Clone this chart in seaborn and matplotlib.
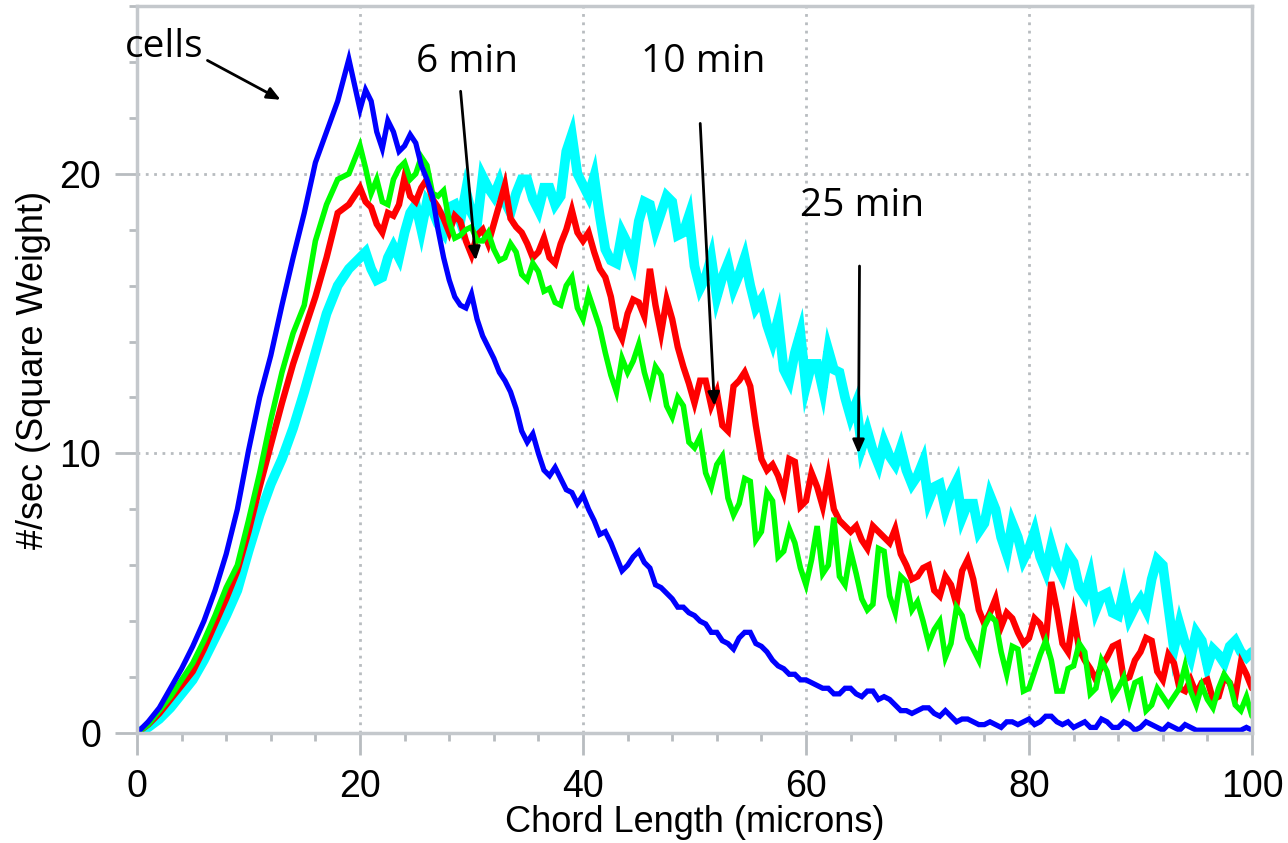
import numpy as np
import pandas as pd
import matplotlib
matplotlib.use("Agg")
import matplotlib.pyplot as plt
import seaborn as sns
from matplotlib.ticker import MultipleLocator

# chord length samples: whole microns, plus half-micron readings in the noisy part (20.5 .. 99.5)
chord = list(range(0, 101))
chord_mid = list(np.arange(20.5, 100.0, 1.0))

cells = [0, 0.4, 0.9, 1.6, 2.3, 3.1, 4.0, 5.1, 6.4, 8.0, 10.1, 12.0, 13.5, 15.3, 17.0, 18.6, 20.4, 21.5, 22.6, 24.1,
         22.3, 22.6, 20.9, 21.5, 21.0, 21.1, 19.8, 18.0, 16.2, 15.3, 15.7, 14.2, 13.4, 12.6, 11.6, 10.4, 10.0, 9.2, 9.1, 8.6,
         8.5, 7.6, 7.2, 6.3, 6.0, 6.5, 5.9, 5.2, 4.8, 4.5, 4.2, 3.9, 3.6, 3.2, 3.4, 3.6, 3.1, 2.6, 2.3, 2.1,
         1.9, 1.7, 1.6, 1.4, 1.6, 1.3, 1.5, 1.3, 1.0, 0.8, 0.8, 0.9, 0.6, 0.6, 0.5, 0.4, 0.3, 0.3, 0.4, 0.3,
         0.5, 0.4, 0.6, 0.3, 0.2, 0.4, 0.2, 0.4, 0.2, 0.3, 0.2, 0.3, 0.1, 0.2, 0.3, 0.1, 0.1, 0.1, 0.1, 0.1, 0.1]
cells_mid = [23.0, 21.5, 21.9, 20.8, 21.4, 20.3, 19.2, 17.0, 15.6, 15.2,
             14.8, 13.8, 12.9, 12.2, 10.8, 10.7, 9.4, 9.5, 8.7, 8.2,
             8.0, 7.1, 6.8, 5.8, 6.3, 6.1, 5.3, 5.0, 4.5, 4.3,
             4.0, 3.6, 3.3, 3.0, 3.6, 3.2, 2.9, 2.4, 2.1, 1.9,
             1.8, 1.6, 1.4, 1.6, 1.4, 1.5, 1.2, 1.2, 0.8, 0.7,
             0.9, 0.7, 0.8, 0.4, 0.5, 0.3, 0.4, 0.2, 0.4, 0.4,
             0.3, 0.6, 0.4, 0.4, 0.3, 0.2, 0.5, 0.2, 0.4, 0.1,
             0.4, 0.2, 0.3, 0.1, 0.2, 0.1, 0.1, 0.1, 0.1, 0.2]

min6 = [0, 0.3, 0.7, 1.2, 1.7, 2.2, 3.0, 3.9, 4.8, 5.8, 7.2, 8.8, 10.3, 11.8, 13.2, 14.4, 15.6, 17.0, 18.6, 18.9,
        19.5, 18.8, 17.9, 18.5, 19.9, 19.0, 19.8, 18.8, 17.9, 18.3, 17.1, 18.0, 18.2, 19.6, 18.1, 17.5, 17.2, 17.0, 17.5, 18.7,
        17.6, 17.2, 16.3, 14.5, 15.0, 15.4, 16.6, 14.3, 14.8, 13.1, 11.8, 12.6, 12.2, 10.8, 12.6, 12.4, 9.8, 9.6, 8.6, 9.7,
        8.3, 8.8, 9.2, 7.6, 7.2, 6.9, 7.4, 7.0, 7.3, 6.0, 5.6, 6.0, 4.9, 5.3, 5.8, 5.5, 3.9, 4.8, 4.3, 3.6,
        3.4, 3.9, 5.4, 3.2, 4.2, 2.6, 1.9, 2.7, 3.2, 2.0, 2.9, 3.3, 1.9, 2.5, 1.5, 1.4, 1.9, 1.3, 1.8, 2.5, 1.6]
min6_mid = [19.0, 18.2, 18.6, 18.9, 19.2, 19.5, 19.1, 18.4, 18.5, 17.6,
            17.8, 17.5, 18.9, 18.4, 17.9, 17.0, 17.7, 16.8, 18.0, 17.9,
            17.9, 16.6, 15.6, 14.1, 15.5, 14.9, 15.3, 15.5, 13.8, 12.5,
            12.6, 11.7, 11.0, 12.4, 12.9, 11.0, 9.4, 9.2, 9.8, 8.1,
            9.3, 8.1, 8.0, 7.4, 7.4, 6.6, 7.2, 6.8, 6.4, 5.5,
            5.9, 5.1, 5.6, 4.6, 6.2, 4.4, 4.3, 3.8, 4.1, 3.2,
            4.1, 3.3, 4.4, 2.9, 3.0, 2.3, 2.4, 3.1, 1.9, 2.6,
            3.4, 2.2, 2.8, 1.6, 1.9, 1.8, 1.2, 2.0, 1.3, 2.1]

min10 = [0, 0.3, 0.8, 1.3, 1.9, 2.5, 3.3, 4.2, 5.2, 6.0, 7.6, 9.3, 11.2, 12.9, 14.3, 15.3, 17.6, 18.9, 19.8, 20.0,
         21.0, 19.3, 19.0, 19.8, 20.4, 20.0, 20.3, 19.2, 18.3, 17.8, 18.1, 17.6, 17.3, 17.0, 17.2, 16.2, 16.5, 15.9, 15.3, 16.3,
         14.8, 15.1, 13.6, 12.2, 12.9, 13.9, 12.2, 12.8, 11.3, 11.7, 10.2, 9.3, 9.6, 8.4, 8.2, 9.0, 7.2, 8.3, 6.5, 6.8,
         5.3, 7.4, 6.0, 5.6, 6.5, 4.8, 4.6, 6.5, 4.3, 5.4, 4.7, 3.2, 4.0, 3.2, 4.2, 3.0, 3.8, 4.0, 2.1, 3.0,
         1.6, 2.8, 2.6, 1.5, 2.4, 2.9, 1.6, 2.2, 1.6, 1.1, 1.9, 1.0, 1.3, 1.3, 2.4, 1.0, 1.2, 1.6, 1.8, 0.8, 0.6]
min10_mid = [20.2, 19.8, 18.9, 20.2, 19.8, 20.6, 19.3, 19.4, 17.7, 18.0,
             17.6, 17.9, 16.9, 17.5, 16.4, 16.8, 15.8, 15.4, 16.0, 15.2,
             15.7, 14.5, 12.8, 13.4, 13.3, 12.9, 13.1, 11.7, 12.0, 10.4,
             10.6, 8.8, 9.9, 7.8, 9.1, 6.9, 8.6, 6.3, 7.3, 5.9,
             6.2, 5.7, 7.7, 5.3, 5.7, 4.4, 6.6, 4.9, 5.6, 4.4,
             4.0, 3.7, 2.7, 4.5, 3.4, 2.6, 4.2, 2.9, 3.1, 1.5,
             2.2, 3.3, 1.5, 2.3, 3.2, 1.4, 2.6, 1.3, 2.0, 1.8,
             0.8, 1.6, 1.0, 1.6, 1.5, 1.7, 0.9, 2.1, 1.0, 1.3]

min25 = [0, 0.2, 0.5, 0.9, 1.4, 1.9, 2.6, 3.4, 4.2, 5.1, 6.5, 7.8, 8.9, 9.8, 10.9, 12.2, 13.6, 15.0, 16.0, 16.6,
         17.0, 16.6, 16.3, 17.4, 17.9, 18.9, 19.0, 18.2, 18.8, 18.3, 18.6, 19.9, 19.2, 19.0, 19.3, 19.8, 18.7, 19.5, 19.2, 21.4,
         19.6, 19.9, 17.3, 16.8, 17.5, 18.3, 18.9, 18.6, 19.0, 17.9, 16.7, 16.3, 15.6, 16.8, 16.4, 16.0, 15.5, 14.0, 13.0, 13.6,
         12.4, 13.2, 13.7, 12.9, 11.3, 10.2, 10.1, 10.4, 9.6, 9.4, 9.2, 8.3, 8.9, 8.6, 7.7, 8.2, 7.5, 8.0, 6.4, 7.0,
         6.6, 6.3, 6.7, 5.6, 6.1, 4.9, 4.4, 5.0, 4.2, 4.1, 4.8, 5.5, 6.0, 3.0, 3.2, 3.6, 2.4, 2.8, 3.1, 2.9, 2.9]
min25_mid = [17.2, 16.2, 17.0, 17.0, 18.6, 18.0, 18.7, 17.9, 18.9, 19.4,
             18.2, 19.5, 19.7, 18.6, 19.8, 19.1, 19.5, 18.9, 20.8, 20.0,
             19.2, 18.5, 16.9, 17.9, 16.9, 19.0, 18.0, 19.2, 17.8, 18.5,
             15.9, 17.0, 16.3, 15.9, 17.0, 15.2, 14.6, 14.8, 12.6, 14.3,
             13.2, 12.3, 13.0, 12.0, 11.8, 10.8, 9.6, 9.9, 10.2, 8.9,
             9.7, 8.8, 8.0, 9.0, 8.2, 7.2, 8.5, 7.0, 7.5, 6.2,
             7.2, 5.8, 6.0, 6.4, 5.2, 5.6, 4.9, 4.3, 5.1, 4.5,
             4.4, 6.2, 4.5, 3.9, 2.7, 3.3, 3.0, 2.5, 3.3, 2.7]

series_names = ["25 min", "6 min", "10 min", "cells"]
series_values = [(min25, min25_mid), (min6, min6_mid), (min10, min10_mid), (cells, cells_mid)]
series_colors = ["#00ffff", "#ff0000", "#00ff00", "#0000ff"]
series_widths = [7.0, 4.6, 4.0, 3.8]

x_ticks = [0, 20, 40, 60, 80, 100]
y_ticks = [0, 10, 20]

sns.set_style("white")
plt.rcParams["font.family"] = ["Liberation Sans", "DejaVu Sans"]
plt.rcParams["text.color"] = "black"
plt.rcParams["axes.labelcolor"] = "black"
plt.rcParams["xtick.color"] = "black"
plt.rcParams["ytick.color"] = "black"

fig = plt.figure(figsize=(12.88, 8.43), dpi=100)
ax = fig.add_axes([137 / 1288, 1 - 733 / 843, (1252 - 137) / 1288, (733 - 6) / 843])

for name, (vals, mids), col, lw in zip(series_names, series_values, series_colors, series_widths):
    df = pd.DataFrame({"x": chord + chord_mid, "y": vals + mids}).sort_values("x")
    sns.lineplot(data=df, x="x", y="y", ax=ax, color=col, linewidth=lw, estimator=None, sort=True)
for ln in ax.get_lines():
    ln.set_solid_joinstyle("miter")

ax.set_xlim(0, 100)
ax.set_ylim(0, 26)
ax.set_xticks(x_ticks)
ax.set_yticks(y_ticks)
ax.xaxis.set_minor_locator(MultipleLocator(4))
ax.yaxis.set_minor_locator(MultipleLocator(2))

grid_col = "#b8bcc0"
ax.grid(True, which="major", color=grid_col, linestyle=(0, (1, 2)), linewidth=2)
for side in ax.spines.values():
    side.set_color("#c4c8cc")
    side.set_linewidth(2.5)

ax.tick_params(axis="both", which="major", length=16, width=2, color=grid_col, labelcolor="black",
               labelsize=27, pad=10)
ax.tick_params(axis="both", which="minor", length=6, width=2, color=grid_col)
ax.tick_params(axis="x", which="both", bottom=True, direction="out")
ax.tick_params(axis="y", which="both", left=True, direction="out")

ax.set_xlabel("Chord Length (microns)", fontsize=26, labelpad=0, color="black")
ax.set_ylabel("#/sec (Square Weight)", fontsize=26, labelpad=6, color="black")

ann_font = ["Open Sans", "DejaVu Sans"]
ax.text(-1.1, 24.55, "cells", fontsize=28, family=ann_font, ha="left", va="center", color="black")
ax.text(29.6, 24.0, "6 min", fontsize=28, family=ann_font, ha="center", va="center", color="black")
ax.text(50.8, 24.0, "10 min", fontsize=28, family=ann_font, ha="center", va="center", color="black")
ax.text(65.0, 18.85, "25 min", fontsize=28, family=ann_font, ha="center", va="center", color="black")

arrow_style = dict(arrowstyle="-|>,head_length=0.8,head_width=0.35", color="black", lw=2)
ax.annotate("", xy=(13.1, 22.6), xytext=(6.1, 24.1), arrowprops=arrow_style)
ax.annotate("", xy=(30.4, 16.8), xytext=(29.0, 23.05), arrowprops=arrow_style)
ax.annotate("", xy=(51.8, 11.6), xytext=(50.5, 21.9), arrowprops=arrow_style)
ax.annotate("", xy=(64.7, 9.9), xytext=(64.8, 16.8), arrowprops=arrow_style)

fig.savefig("out.png", dpi=100)
